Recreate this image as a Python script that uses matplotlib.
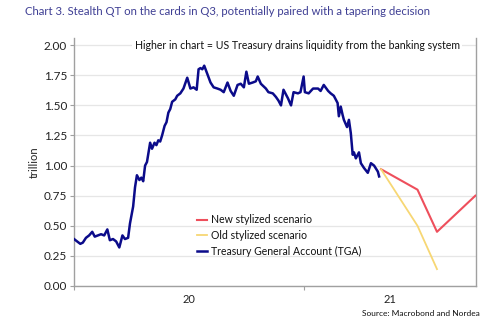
import matplotlib
matplotlib.use("Agg")
import matplotlib.pyplot as plt
import matplotlib.dates as mdates
import pandas as pd

plt.rcParams['font.family'] = ['Lato', 'DejaVu Sans']

tga_dates = [
    "2020-01-01", "2020-01-06", "2020-01-11", "2020-01-15", "2020-01-20", "2020-01-25", "2020-01-30",
    "2020-02-03", "2020-02-08", "2020-02-13", "2020-02-18", "2020-02-23", "2020-02-27",
    "2020-03-03", "2020-03-08", "2020-03-13", "2020-03-18", "2020-03-22", "2020-03-27", "2020-03-30",
    "2020-04-04", "2020-04-07", "2020-04-10", "2020-04-14", "2020-04-17", "2020-04-20", "2020-04-23",
    "2020-04-26", "2020-05-01", "2020-05-04", "2020-05-08", "2020-05-11", "2020-05-14", "2020-05-17",
    "2020-05-20", "2020-05-24", "2020-05-27", "2020-05-30", "2020-06-02", "2020-06-05", "2020-06-10",
    "2020-06-13", "2020-06-18", "2020-06-23", "2020-06-29", "2020-07-04", "2020-07-09", "2020-07-14",
    "2020-07-17", "2020-07-20", "2020-07-23", "2020-07-26", "2020-07-31", "2020-08-05", "2020-08-10",
    "2020-08-16", "2020-08-21", "2020-08-26", "2020-09-01", "2020-09-06", "2020-09-11", "2020-09-17",
    "2020-09-22", "2020-09-27", "2020-10-01", "2020-10-05", "2020-10-11", "2020-10-16", "2020-10-19",
    "2020-10-24", "2020-10-28", "2020-11-01", "2020-11-05", "2020-11-12", "2020-11-17", "2020-11-21",
    "2020-11-25", "2020-11-29", "2020-12-06", "2020-12-11", "2020-12-15", "2020-12-22", "2020-12-26",
    "2020-12-31", "2021-01-02", "2021-01-08", "2021-01-15", "2021-01-23", "2021-01-27", "2021-02-01",
    "2021-02-08", "2021-02-12", "2021-02-17", "2021-02-23", "2021-02-25", "2021-02-28", "2021-03-03",
    "2021-03-05", "2021-03-10", "2021-03-13", "2021-03-16", "2021-03-19", "2021-03-21", "2021-03-24",
    "2021-03-29", "2021-04-01", "2021-04-06", "2021-04-12", "2021-04-17", "2021-04-22", "2021-04-28",
    "2021-04-30",
]
tga_values = [
    0.39, 0.37, 0.35, 0.36, 0.40, 0.42, 0.45,
    0.41, 0.42, 0.43, 0.42, 0.47, 0.38,
    0.39, 0.37, 0.32, 0.42, 0.39, 0.40, 0.52,
    0.66, 0.82, 0.92, 0.88, 0.90, 0.87, 1.00,
    1.03, 1.19, 1.14, 1.19, 1.17, 1.21, 1.20,
    1.25, 1.33, 1.36, 1.44, 1.47, 1.53, 1.55,
    1.58, 1.60, 1.64, 1.73, 1.64, 1.65, 1.63,
    1.80, 1.81, 1.80, 1.83, 1.76, 1.69, 1.65,
    1.64, 1.63, 1.61, 1.69, 1.62, 1.58, 1.67,
    1.68, 1.65, 1.78, 1.68, 1.69, 1.70, 1.74,
    1.68, 1.66, 1.64, 1.61, 1.60, 1.57, 1.54,
    1.50, 1.63, 1.56, 1.50, 1.61, 1.60, 1.61,
    1.74, 1.61, 1.60, 1.64, 1.64, 1.62, 1.67,
    1.62, 1.60, 1.58, 1.52, 1.41, 1.49, 1.42,
    1.38, 1.32, 1.38, 1.27, 1.09, 1.11, 1.06,
    1.11, 1.02, 0.98, 0.94, 1.02, 1.00, 0.95,
    0.91,
]

new_dates = ["2021-05-03", "2021-06-30", "2021-07-31", "2021-09-30"]
new_values = [0.97, 0.80, 0.45, 0.75]
old_dates = ["2021-05-03", "2021-06-30", "2021-07-31"]
old_values = [0.97, 0.50, 0.14]

yticks = [0.00, 0.25, 0.50, 0.75, 1.00, 1.25, 1.50, 1.75, 2.00]
year_labels = ["20", "21"]

title = "Chart 3. Stealth QT on the cards in Q3, potentially paired with a tapering decision"
note = "Higher in chart = US Treasury drains liquidity from the banking system"
source = "Source: Macrobond and Nordea"

BLUE = "#0b0b8a"
RED = "#ee4f5c"
YELLOW = "#f7d774"
GRID = "#e6e6e6"
SPINE = "#a0a0a0"

fig = plt.figure(figsize=(5.0, 3.23), dpi=100)
ax = fig.add_axes([0.148, 0.1146, 0.804, 0.7678])

ax.plot(pd.to_datetime(new_dates), new_values, color=RED, lw=1.5, label="New stylized scenario", zorder=3)
ax.plot(pd.to_datetime(old_dates), old_values, color=YELLOW, lw=1.3, label="Old stylized scenario", zorder=3)
ax.plot(pd.to_datetime(tga_dates), tga_values, color=BLUE, lw=1.8, label="Treasury General Account (TGA)", zorder=4)

ax.set_ylim(0, 2.06)
ax.set_xlim(pd.Timestamp("2020-01-01"), pd.Timestamp("2021-10-01"))
ax.set_yticks(yticks)
ax.set_yticklabels([f"{v:.2f}" for v in yticks])
ax.grid(axis="y", color=GRID, lw=0.9, zorder=0)
ax.set_axisbelow(True)

ax.xaxis.set_major_locator(mdates.YearLocator())
ax.xaxis.set_major_formatter(matplotlib.ticker.NullFormatter())
ax.set_xticks([pd.Timestamp("2020-07-01"), pd.Timestamp("2021-05-17")], minor=True)
ax.set_xticklabels(year_labels, minor=True)
ax.tick_params(axis="x", which="major", length=3, color=SPINE, width=0.8)
ax.tick_params(axis="x", which="minor", length=0, labelsize=8, pad=6, labelcolor="#222222")
ax.tick_params(axis="y", length=3, color=SPINE, width=0.8, labelsize=8.5, labelcolor="#222222", pad=2)

for side in ["left", "bottom", "right"]:
    ax.spines[side].set_color(SPINE)
    ax.spines[side].set_linewidth(1.0)
ax.spines["top"].set_visible(False)

ax.set_ylabel("trillion", fontsize=8, color="#222222", labelpad=3)

ax.text(0.555, yticks[-1], note, ha="center", va="center", fontsize=7.6, color="#111111",
        transform=matplotlib.transforms.blended_transform_factory(ax.transAxes, ax.transData),
        bbox=dict(facecolor="white", edgecolor="none", pad=1.5), zorder=5)

leg = ax.legend(loc="lower left", bbox_to_anchor=(0.295, 0.1), frameon=False, fontsize=7.6,
                handlelength=1.0, handletextpad=0.3, labelspacing=0.45, borderaxespad=0)
for t in leg.get_texts():
    t.set_color("#111111")

fig.text(0.05, 0.965, title, ha="left", va="center", fontsize=8.2, color="#3f3f94")
fig.text(0.96, 0.03, source, ha="right", va="center", fontsize=6, color="#111111")

fig.savefig("out.png", dpi=100)
